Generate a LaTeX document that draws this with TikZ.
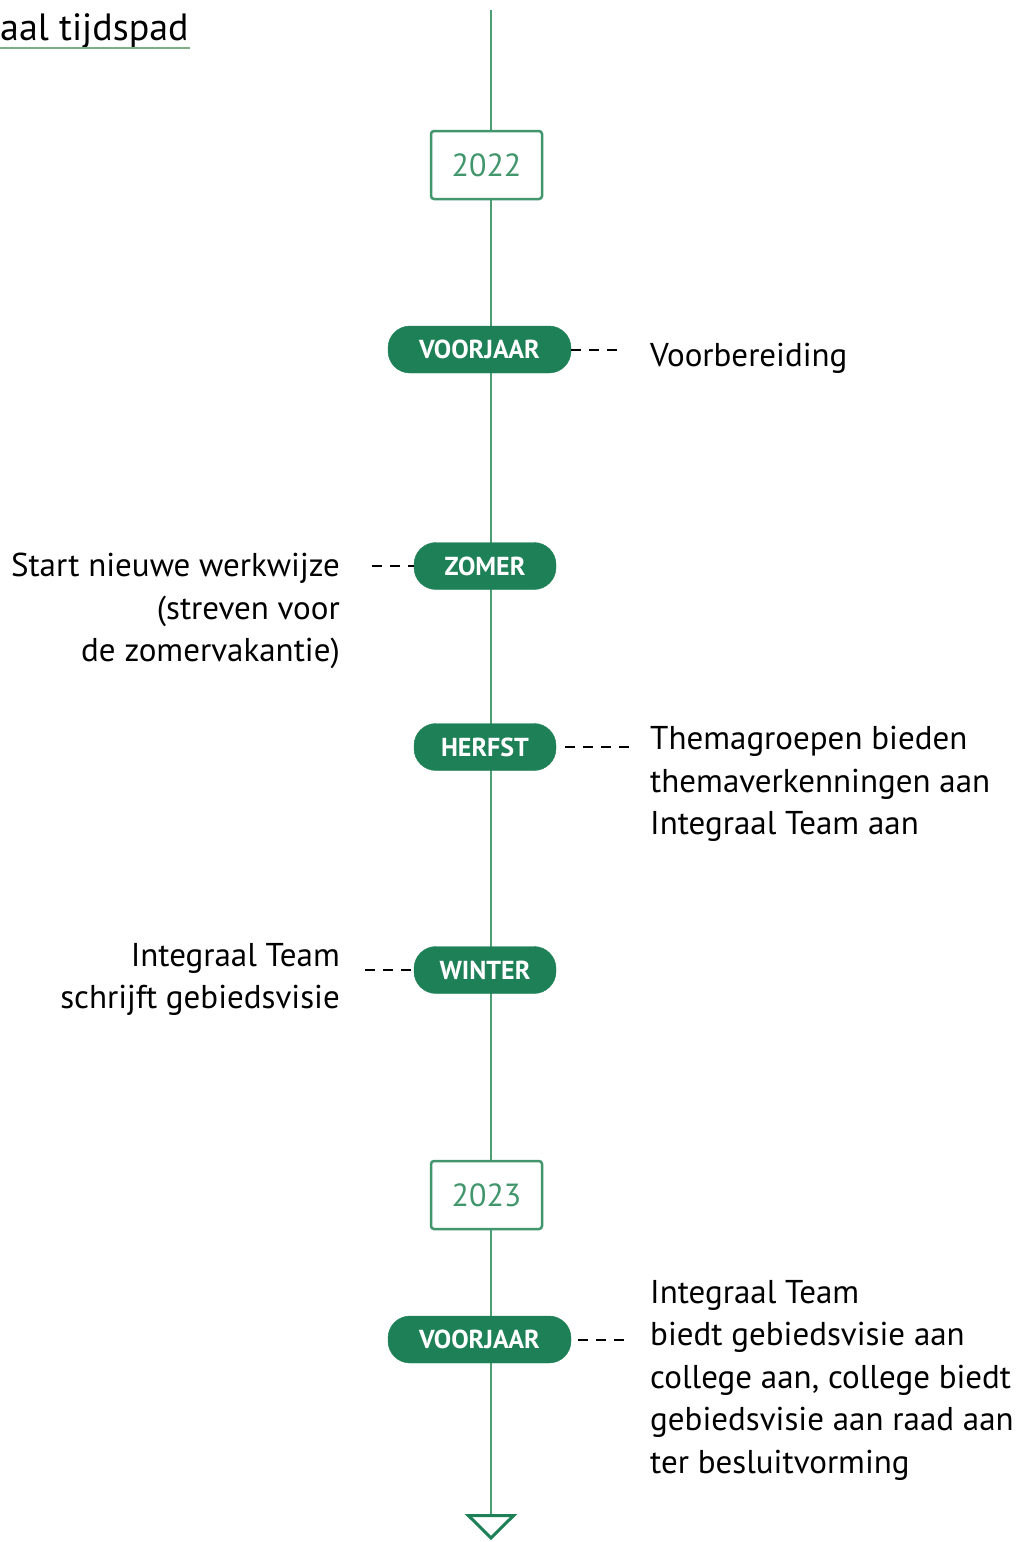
\documentclass[tikz,border=0pt]{standalone}
\usepackage{fontspec}
\setmainfont{PT Sans}
\usetikzlibrary{positioning, arrows.meta}

\definecolor{pillgreen}{RGB}{30,128,86}
\definecolor{linegreen}{RGB}{78,158,116}
\definecolor{boxgreen}{RGB}{66,150,108}
\definecolor{titlegreen}{RGB}{125,175,135}

\tikzset{
	season/.style={fill=pillgreen, draw=pillgreen, rounded corners=22pt, minimum height=47pt,
		inner sep=0pt, text=white, font=\bfseries\fontsize{26}{30}\selectfont},
	yearbox/.style={draw=boxgreen, line width=2.5pt, fill=white, rounded corners=3pt,
		minimum width=111pt, minimum height=68pt, text=boxgreen, font=\fontsize{32}{36}\selectfont},
	note/.style={inner sep=0pt, font=\fontsize{33}{42.5}\selectfont},
	dashline/.style={line width=2pt, dash pattern=on 10pt off 8pt}
}

\begin{document}
\begin{tikzpicture}[x=1pt, y=-1pt]

		\useasboundingbox (0,0) rectangle (1019,1542);

		% Title
		\node [note, anchor=base west, font=\fontsize{38}{42}\selectfont] (title) at (0,40) {aal tijdspad};
		\draw [titlegreen, line width=2pt] ([yshift=-8pt]title.base west) -- ++(190,0);

		% Timeline
		\coordinate (tl-top) at (491,10);
		\coordinate (tl-end) at (491,1540);
		\draw [linegreen, line width=2pt,
			-{Triangle[open, width=52pt, length=26pt, line width=3pt, color=pillgreen]}]
			(tl-top) -- (tl-end);

		% Years
		\node [yearbox] (year-a) at (486.5,165) {2022};
		\node [yearbox] (year-b) at (486.5,1195) {2023};

		% Seasons
		\node [season, minimum width=183pt] (voorjaar-a) at (479.5,349.5) {VOORJAAR};
		\node [season, minimum width=142pt] (zomer) at (485,566) {ZOMER};
		\node [season, minimum width=142pt] (herfst) at (485,747) {HERFST};
		\node [season, minimum width=142pt] (winter) at (485,970) {WINTER};
		\node [season, minimum width=183pt] (voorjaar-b) at (479.5,1339.5) {VOORJAAR};

		% Notes
		\node [note, anchor=north west] (note-a) at (650,343) {Voorbereiding};
		\node [note, anchor=north east, align=right] (note-b) at (340,553) {
			Start nieuwe werkwijze\\(streven voor\\de zomervakantie)
		};
		\node [note, anchor=north west, align=left] (note-c) at (650,726) {
			Themagroepen bieden\\themaverkenningen aan\\Integraal Team aan
		};
		\node [note, anchor=north east, align=right] (note-d) at (340,943) {
			Integraal Team\\schrijft gebiedsvisie
		};
		\node [note, anchor=north west, align=left] (note-e) at (650,1280) {
			Integraal Team\\biedt gebiedsvisie aan\\college aan, college biedt\\gebiedsvisie aan raad aan\\ter besluitvorming
		};

		% Dashed links
		\draw [dashline, shorten >=33pt] (voorjaar-a.east) -- (voorjaar-a.east -| note-a.west);
		\draw [dashline, shorten <=32pt] (note-b.east |- zomer.west) -- (zomer.west);
		\draw [dashline, shorten <=9pt, shorten >=14pt] (herfst.east) -- (herfst.east -| note-c.west);
		\draw [dashline, shorten <=25pt] (note-d.east |- winter.west) -- (winter.west);
		\draw [dashline, shorten <=7pt, shorten >=18pt] (voorjaar-b.east) -- (voorjaar-b.east -| note-e.west);

	\end{tikzpicture}
\end{document}
